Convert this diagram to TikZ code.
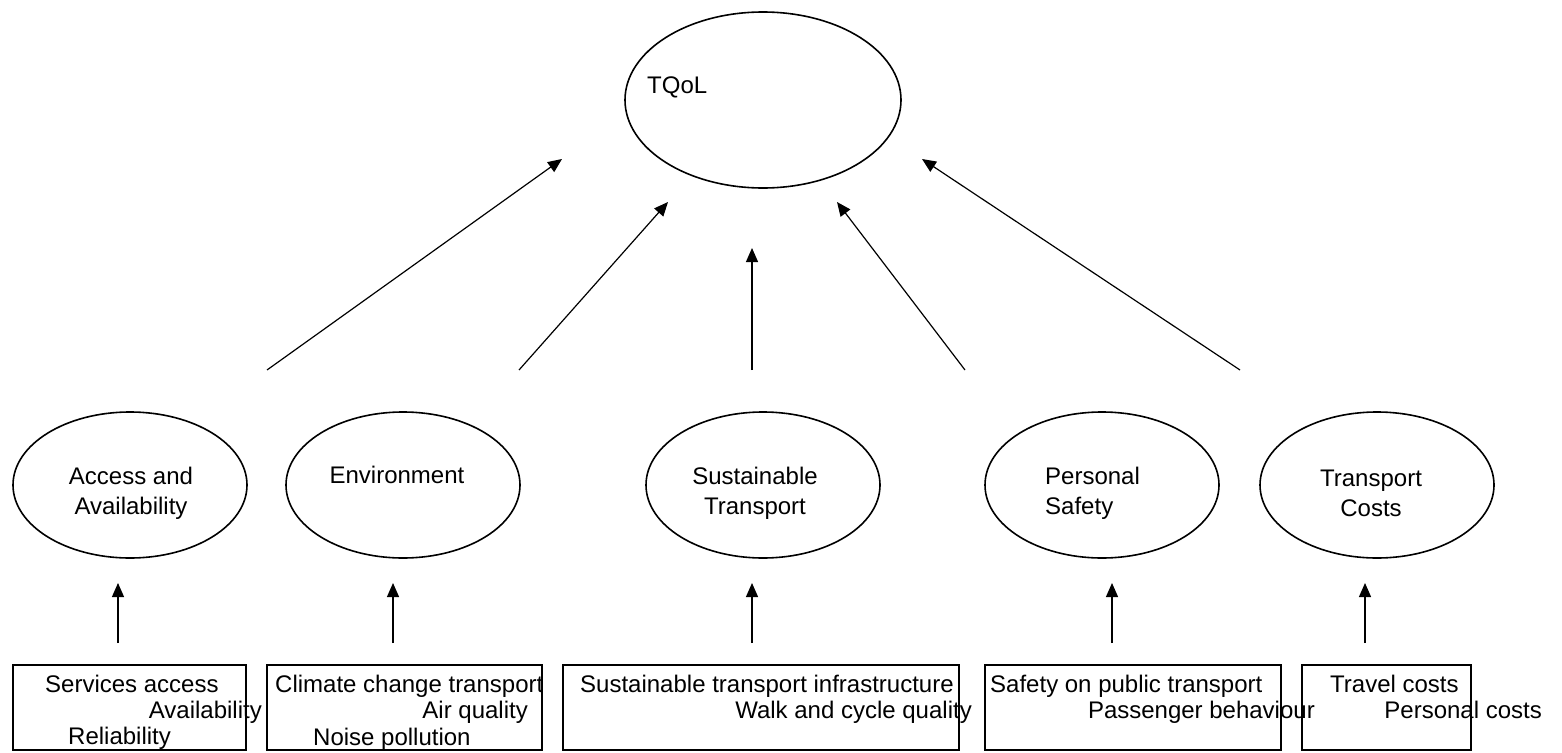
\documentclass[tikz,border=0pt]{standalone}
\usepackage{fontspec}
\setmainfont{Liberation Sans}
\usetikzlibrary{arrows.meta, positioning}
\usetikzlibrary{shapes.geometric}

\tikzset{
  bubble/.style={ellipse, draw, line width=1.6pt, minimum width=234pt, minimum height=146pt},
  bubbletxt/.style={align=center, inner sep=0pt, font=\fontsize{24}{30}\selectfont},
  itembox/.style={rectangle, draw, line width=1.3pt, minimum height=85pt},
  item/.style={inner sep=0pt, font=\fontsize{24}{26}\selectfont},
  arr/.style={-{Triangle[length=14pt,width=12pt]}, line width=1.2pt}
}

\begin{document}
\begin{tikzpicture}[x=1pt,y=-1pt]
\useasboundingbox (0,0) rectangle (1562,752);

% top ellipse
\node[ellipse, draw, line width=1.6pt, minimum width=276pt, minimum height=176pt] (tqol) at (763,100) {};
\node[item, anchor=base west] (tqoltxt) at (647,93) {TQoL};

% factors
\node[bubble] (acc) at (130,485) {};
\node[bubble] (env) at (403,485) {};
\node[bubble] (sus) at (763,485) {};
\node[bubble] (saf) at (1102,485) {};
\node[bubble] (cost) at (1377,485) {};

\node[bubbletxt] (acctxt) at (131,493) {Access and\\Availability};
\node[bubbletxt, anchor=base] (envtxt) at (397,483) {Environment};
\node[bubbletxt] (sustxt) at (755,493) {Sustainable\\Transport};
\node[bubbletxt, align=left, anchor=west] (saftxt) at (1045,493) {Personal\\Safety};
\node[bubbletxt] (costtxt) at (1371,493) {Transport\\Costs};

% arrows to TQoL
\foreach \i/\tx/\hx/\hy in {1/267/562/159, 2/519/668/202, 3/752/752/248, 4/965/837/202, 5/1240/922/159} {
  \coordinate (up\i) at (\tx,370);
  \coordinate (tip\i) at (\hx,\hy);
  \draw[arr] (up\i) -- (tip\i);
}

% indicator boxes
\node[itembox, minimum width=233pt] (b1) at (129.5,707.5) {};
\node[itembox, minimum width=275pt] (b2) at (404.5,707.5) {};
\node[itembox, minimum width=396pt] (b3) at (761,707.5) {};
\node[itembox, minimum width=296pt] (b4) at (1133,707.5) {};
\node[itembox, minimum width=169pt] (b5) at (1386.5,707.5) {};

% arrows from boxes
\foreach \i/\x in {1/118, 2/393, 3/752, 4/1112, 5/1365} {
  \coordinate (lo\i) at (\x,643);
  \coordinate (hi\i) at (\x,583);
  \draw[arr] (lo\i) -- (hi\i);
}

% indicator texts
\node[item, anchor=base west] (i11) at (45,692) {Services access};
\node[item, anchor=base east] (i12) at (262,718) {Availability};
\node[item, anchor=base west] (i13) at (68,744) {Reliability};

\node[item, anchor=base west] (i21) at (275,692) {Climate change transport};
\node[item, anchor=base east] (i22) at (528,718) {Air quality};
\node[item, anchor=base west] (i23) at (313,745) {Noise pollution};

\node[item, anchor=base west] (i31) at (580,692) {Sustainable transport infrastructure};
\node[item, anchor=base east] (i32) at (972,718) {Walk and cycle quality};

\node[item, anchor=base west] (i41) at (990,692) {Safety on public transport};
\node[item, anchor=base east] (i42) at (1315,718) {Passenger behaviour};

\node[item, anchor=base west] (i51) at (1330,692) {Travel costs};
\node[item, anchor=base east] (i52) at (1542,718) {Personal costs};
\end{tikzpicture}
\end{document}
